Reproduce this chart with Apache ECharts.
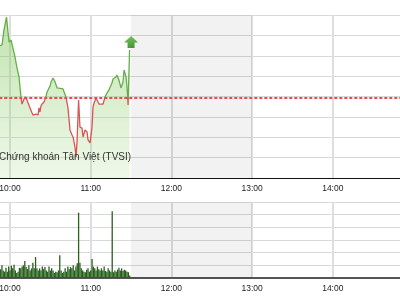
<!DOCTYPE html>
<html><head><meta charset="utf-8">
<script src="https://cdn.jsdelivr.net/npm/echarts@6/dist/echarts.min.js"></script>
<style>html,body{margin:0;padding:0;background:#fff;overflow:hidden}#c{width:400px;height:300px}</style>
</head><body><div id="c"></div>
<script>
const PRICE_TIMES = ['09:51:48','09:54:06','09:55:30','09:57:24','09:58:30','09:59:18','10:00:48','10:02:00','10:03:42','10:05:12',
'10:06:42','10:07:24','10:08:12','10:08:54','10:10:24','10:11:12','10:12:36','10:13:24','10:14:54','10:16:24',
'10:17:06','10:19:18','10:20:48','10:21:36','10:22:18','10:23:00','10:23:48','10:25:18','10:26:48','10:27:36',
'10:29:00','10:29:48','10:30:30','10:32:00','10:33:30','10:35:00','10:36:24','10:39:24','10:41:36','10:43:06',
'10:44:36','10:46:06','10:46:54','10:48:18','10:49:06','10:49:48','10:51:00','10:52:00','10:53:30','10:54:18',
'10:55:48','10:57:18','10:58:00','10:59:30','11:01:00','11:01:42','11:02:30','11:04:00','11:04:42','11:06:12',
'11:09:12','11:10:42','11:12:06','11:13:36','11:15:48','11:16:36','11:18:48','11:19:30','11:21:00','11:22:30',
'11:24:00','11:24:48','11:26:18','11:27:00','11:27:48','11:28:54'];
const PRICES = [552.48,552.53,553.26,553.90,553.17,552.67,552.77,552.72,551.94,551.40,
550.96,550.47,549.93,549.63,549.88,549.98,549.83,549.88,549.44,549.19,
549.09,549.14,549.09,549.44,549.24,549.53,549.63,549.73,550.02,550.22,
550.42,550.52,550.71,550.91,550.71,550.42,550.37,550.37,549.98,549.44,
548.36,548.11,548.01,547.52,547.03,547.72,549.83,548.50,548.45,548.01,
548.36,548.26,547.87,547.72,548.50,549.48,549.68,549.93,549.83,549.63,
549.63,549.98,550.17,550.32,550.66,550.86,550.96,551.06,550.81,550.42,
550.71,551.30,550.96,550.47,549.58,552.28];
const REF_PRICE = 549.93;

const VOL_TIMES = ['09:52','09:53','09:54','09:55','09:56','09:57','09:58','09:59',
'10:00','10:01','10:02','10:03','10:04','10:05','10:06','10:07','10:08','10:09',
'10:10','10:11','10:12','10:13','10:14','10:15','10:16','10:17','10:18','10:19',
'10:20','10:21','10:22','10:23','10:24','10:25','10:26','10:27','10:28','10:29',
'10:30','10:31','10:32','10:33','10:34','10:35','10:36','10:37','10:38','10:39',
'10:40','10:41','10:42','10:43','10:44','10:45','10:46','10:47','10:48','10:49',
'10:50','10:51','10:52','10:53','10:54','10:55','10:56','10:57','10:58','10:59',
'11:00','11:01','11:02','11:03','11:04','11:05','11:06','11:07','11:08','11:09',
'11:10','11:11','11:12','11:13','11:14','11:15','11:16','11:17','11:18','11:19',
'11:20','11:21','11:22','11:23','11:24','11:25','11:26','11:27','11:28','11:29'];
const VOLUMES = [40,35,50,30,25,40,25,45,30,48,
38,52,30,20,25,40,38,45,50,67,
43,35,50,30,38,60,38,83,38,30,
38,30,45,35,43,30,25,45,30,38,
30,20,25,23,30,90,30,20,25,38,
25,45,35,43,38,50,30,45,58,258,
60,38,30,25,23,33,38,25,30,75,
45,38,30,45,35,30,38,30,45,28,
25,38,30,25,263,23,30,25,33,40,
30,38,28,33,30,25,23,10];

const LUNCH = ['11:30','13:00'];
const WATERMARK = 'Chứng khoán Tân Việt (TVSI)';

function toMin(s){const p=s.split(':').map(Number);return (p[0]-9)*60+p[1]+(p[2]||0)/60;}
function fmt(v){const h=9+Math.floor(v/60),m=Math.round(v%60);return (h<10?'0':'')+h+':'+(m<10?'0':'')+m;}

const FONT = '"Liberation Sans", Arial, sans-serif';
function xAxisCfg(idx, lineColor, lineWidth){
  return {type:'value', gridIndex:idx, min:0, max:360, interval:60,
    axisLine:{show:true, onZero:false, lineStyle:{color:lineColor, width:lineWidth}},
    axisTick:{show:false},
    axisLabel:{formatter:fmt, fontSize:8.5, color:'#222', margin:6, fontFamily:FONT},
    splitLine:{show:true, lineStyle:{color:'#dedede', width:2}}};
}
function yAxisCfg(idx,min,max,interval){
  return {type:'value', gridIndex:idx, min:min, max:max, interval:interval,
    axisLine:{show:false}, axisTick:{show:false}, axisLabel:{show:false},
    splitLine:{show:true, lineStyle:{color:'#d9d9d9', width:1}}};
}

const priceData = PRICE_TIMES.map((t,i)=>[toMin(t),PRICES[i]]);
const volData = VOL_TIMES.map((t,i)=>[toMin(t),VOLUMES[i]]);
const last = priceData[priceData.length-1];
const lunchFrom = toMin(LUNCH[0]), lunchTo = toMin(LUNCH[1]);

const chart = echarts.init(document.getElementById('c'), null, {renderer:'canvas'});
chart.setOption({
  animation:false,
  grid:[{left:-70.7, width:484.2, top:15, height:163, containLabel:false, outerBoundsMode:'none'},
        {left:-70.7, width:484.2, top:202, height:76, containLabel:false, outerBoundsMode:'none'}],
  xAxis:[xAxisCfg(0,'#111',1), xAxisCfg(1,'#555',2)],
  yAxis:[yAxisCfg(0,546,554,1), yAxisCfg(1,0,300,50)],
  series:[]
});
// pixel position of reference price through the axis scale
const yRef = chart.convertToPixel({yAxisIndex:0}, REF_PRICE);
const H = 300, r = yRef / H;
const lineColor = new echarts.graphic.LinearGradient(0,0,0,H,[
  {offset:0,color:'#62b046'},{offset:r,color:'#62b046'},
  {offset:r,color:'#d65555'},{offset:1,color:'#d65555'}], true);

chart.setOption({
  graphic:[{type:'text', left:-1, top:152, z:10, silent:true,
    style:{text:WATERMARK, fontSize:10, fill:'#333', fontFamily:FONT}}],
  series:[
    {type:'line', xAxisIndex:0, yAxisIndex:0, data:priceData, symbol:'none', z:3,
     lineStyle:{width:1.3, color:lineColor},
     areaStyle:{opacity:1, color:new echarts.graphic.LinearGradient(0,0,0,1,[
        {offset:0,color:'rgba(120,195,85,0.48)'},{offset:0.5,color:'rgba(140,205,105,0.33)'},
        {offset:1,color:'rgba(170,220,140,0.2)'}])}},
    {type:'bar', xAxisIndex:1, yAxisIndex:1, barWidth:1.3, data:volData,
     itemStyle:{color:'#2a5f1e'}},
    {type:'line', xAxisIndex:0, yAxisIndex:0, data:[], symbol:'none', z:1,
     markArea:{silent:true, itemStyle:{color:'rgba(0,0,0,0.05)'},
       data:[[{xAxis:lunchFrom},{xAxis:lunchTo}]]}},
    {type:'line', xAxisIndex:1, yAxisIndex:1, data:[], symbol:'none', z:1,
     markArea:{silent:true, itemStyle:{color:'rgba(0,0,0,0.05)'},
       data:[[{xAxis:lunchFrom},{xAxis:lunchTo}]]}},
    {type:'line', xAxisIndex:0, yAxisIndex:0, data:[], symbol:'none', z:4,
     markLine:{silent:true, symbol:'none', label:{show:false},
       lineStyle:{color:'#f04848', type:[3,2], width:2},
       data:[{yAxis:REF_PRICE}]}},
    {type:'scatter', xAxisIndex:0, yAxisIndex:0, z:5, silent:true,
     data:[last], symbol:'path://M7,0 L14,6 L10.5,6 L10.5,11 L3.5,11 L3.5,6 L0,6 Z',
     symbolSize:[14,12], symbolOffset:[1.5,-8],
     itemStyle:{color:new echarts.graphic.LinearGradient(0,0,0,1,[
       {offset:0,color:'#4cb52a'},{offset:1,color:'#1c7a0c'}])}}
  ]
});
</script></body></html>
